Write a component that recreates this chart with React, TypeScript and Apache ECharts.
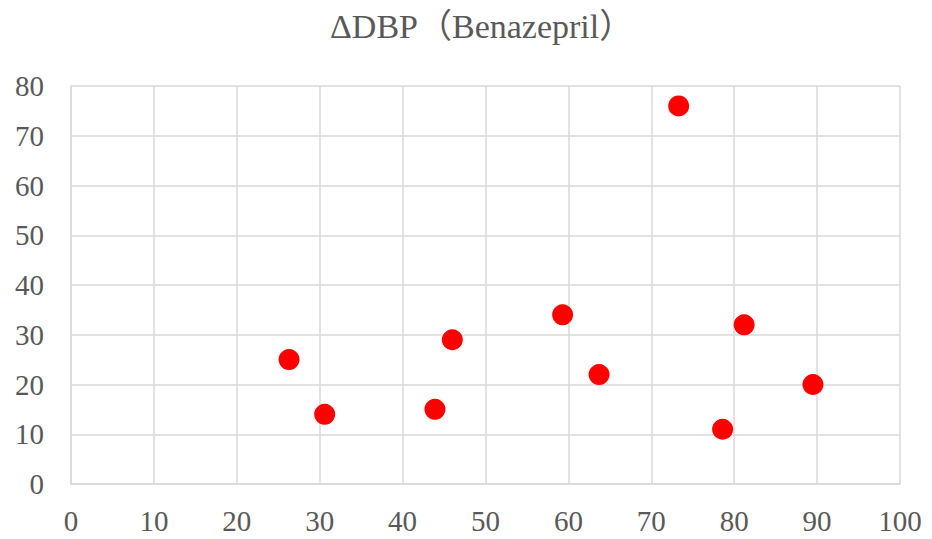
import React, { useEffect, useRef } from "react";
import * as echarts from "echarts";

const titleText = "ΔDBP（Benazepril）";
const xValues = [26.3, 30.6, 43.9, 46.0, 59.3, 63.7, 73.3, 78.6, 81.2, 89.5];
const yValues = [25, 14, 15, 29, 34, 22, 76, 11, 32, 20];

const FONT = "'Liberation Serif', 'Times New Roman', 'Noto Sans CJK JP', serif";

export default function App() {
  const ref = useRef<HTMLDivElement>(null);
  useEffect(() => {
    if (!ref.current) return;
    const chart = echarts.init(ref.current, null, { renderer: "svg" });
    chart.setOption({
      animation: false,
      backgroundColor: "#ffffff",
      title: {
        text: titleText,
        left: 325,
        top: 4,
        textStyle: { fontFamily: FONT, fontSize: 34, fontWeight: "normal", color: "#595959" },
      },
      grid: { left: 71, right: 32, top: 86, bottom: 55, containLabel: false },
      xAxis: {
        type: "value",
        min: 0,
        max: 100,
        interval: 10,
        axisLine: { show: true, lineStyle: { color: "#d9d9d9", width: 1.5 } },
        axisTick: { show: false },
        splitLine: { show: true, lineStyle: { color: "#d9d9d9", width: 1.5 } },
        axisLabel: { fontFamily: FONT, fontSize: 29, color: "#595959", margin: 22 },
      },
      yAxis: {
        type: "value",
        min: 0,
        max: 80,
        interval: 10,
        axisLine: { show: true, lineStyle: { color: "#d9d9d9", width: 1.5 } },
        axisTick: { show: false },
        splitLine: { show: true, lineStyle: { color: "#d9d9d9", width: 1.5 } },
        axisLabel: { fontFamily: FONT, fontSize: 29, color: "#595959", margin: 27 },
      },
      series: [
        {
          type: "scatter",
          data: xValues.map((x, i) => [x, yValues[i]]),
          symbol: "circle",
          symbolSize: 21,
          itemStyle: { color: "#ff0000", opacity: 1 },
        },
      ],
    });
    return () => chart.dispose();
  }, []);
  return <div ref={ref} style={{ width: 932, height: 539, position: "fixed", left: 0, top: 0 }} />;
}
